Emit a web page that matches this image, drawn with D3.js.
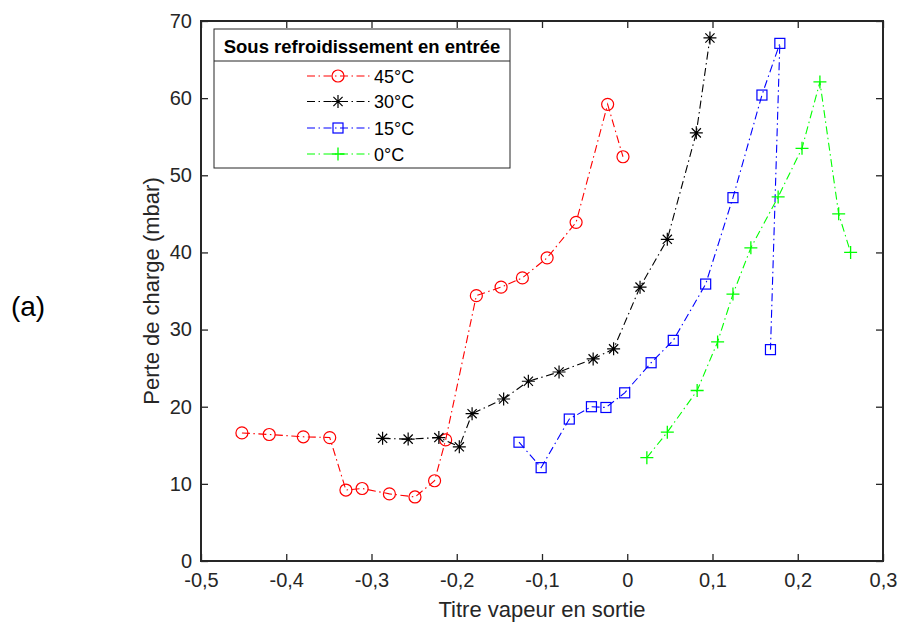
<!DOCTYPE html>
<html><head><meta charset="utf-8">
<script src="https://cdn.jsdelivr.net/npm/d3@7"></script>
<style>
html,body{margin:0;padding:0;background:#fff;}
svg{display:block;font-family:"Liberation Sans",Arial,sans-serif;}
</style></head>
<body><svg id="c" width="899" height="623"></svg>
<script>
const xTicks = [-0.5,-0.4,-0.3,-0.2,-0.1,0,0.1,0.2,0.3];
const yTicks = [0,10,20,30,40,50,60,70];
const seriesNames = ["45°C","30°C","15°C","0°C"];
const seriesColors = ["#ff0000","#000000","#0000ff","#00ff00"];
const seriesMarkers = ["circle","star","square","plus"];
const x45 = [-0.452,-0.420,-0.380,-0.349,-0.330,-0.311,-0.279,-0.249,-0.226,-0.213,-0.177,-0.148,-0.123,-0.094,-0.060,-0.023,-0.005];
const y45 = [16.6,16.4,16.1,16.0,9.2,9.4,8.7,8.3,10.4,15.7,34.4,35.5,36.7,39.3,43.9,59.2,52.4];
const x30 = [-0.287,-0.257,-0.221,-0.197,-0.182,-0.145,-0.116,-0.080,-0.040,-0.016,0.015,0.047,0.081,0.097];
const y30 = [15.9,15.8,16.0,14.8,19.1,21.0,23.3,24.5,26.2,27.5,35.5,41.7,55.5,67.8];
const x15 = [-0.127,-0.101,-0.068,-0.042,-0.025,-0.003,0.028,0.054,0.092,0.124,0.158,0.179,0.168];
const y15 = [15.4,12.1,18.4,20.0,19.9,21.8,25.7,28.6,35.9,47.1,60.4,67.1,27.4];
const x0 = [0.023,0.047,0.082,0.106,0.124,0.145,0.177,0.205,0.226,0.248,0.262];
const y0 = [13.4,16.7,22.1,28.4,34.6,40.6,47.2,53.5,62.1,45.0,40.0];
const xs = [x45,x30,x15,x0], ys = [y45,y30,y15,y0];

const svg = d3.select("#c");
const L=201, R=883, T=21, B=561;
const x = d3.scaleLinear().domain([-0.5,0.3]).range([L,R]);
const y = d3.scaleLinear().domain([0,70]).range([B,T]);
const fmt = d => Math.abs(d)<1e-9 ? "0" : d.toFixed(1).replace(".",",").replace("\u2212","-");
const axCol = "#262626";

const gx = svg.append("g").attr("transform",`translate(0,${B})`)
  .call(d3.axisBottom(x).tickValues(xTicks).tickFormat(fmt).tickSizeInner(-7).tickSizeOuter(0).tickPadding(12));
const gxt = svg.append("g").attr("transform",`translate(0,${T})`)
  .call(d3.axisTop(x).tickValues(xTicks).tickFormat("").tickSizeInner(-7).tickSizeOuter(0));
const gy = svg.append("g").attr("transform",`translate(${L},0)`)
  .call(d3.axisLeft(y).tickValues(yTicks).tickFormat(d3.format("d")).tickSizeInner(-7).tickSizeOuter(0).tickPadding(9));
const gyr = svg.append("g").attr("transform",`translate(${R},0)`)
  .call(d3.axisRight(y).tickValues(yTicks).tickFormat("").tickSizeInner(-7).tickSizeOuter(0));
[gx,gxt,gy,gyr].forEach(g=>{
  g.select(".domain").remove();
  g.selectAll(".tick line").attr("stroke",axCol).attr("stroke-width",1.3);
  g.selectAll(".tick text").attr("fill",axCol).attr("font-size",20).attr("font-family","Liberation Sans, Arial, sans-serif");
});
svg.append("rect").attr("x",L).attr("y",T).attr("width",R-L).attr("height",B-T)
  .attr("fill","none").attr("stroke",axCol).attr("stroke-width",2);

svg.append("text").attr("x",(L+R)/2).attr("y",617).attr("text-anchor","middle")
  .attr("font-size",22).attr("fill",axCol).text("Titre vapeur en sortie");
svg.append("text").attr("transform",`translate(159,${(T+B)/2}) rotate(-90)`).attr("text-anchor","middle")
  .attr("font-size",22).attr("fill",axCol).text("Perte de charge (mbar)");
svg.append("text").attr("x",28).attr("y",316).attr("text-anchor","middle")
  .attr("font-size",28).attr("fill","#000").text("(a)");

const dash = "8,3.5,1.5,3.5";
function marker(g, type, cx, cy, col){
  if(type==="circle") g.append("circle").attr("cx",cx).attr("cy",cy).attr("r",6).attr("fill","none").attr("stroke",col).attr("stroke-width",1.2);
  else if(type==="square") g.append("rect").attr("x",cx-5).attr("y",cy-5).attr("width",10).attr("height",10).attr("fill","none").attr("stroke",col).attr("stroke-width",1.2);
  else if(type==="plus") g.append("path").attr("d",`M${cx-6.5},${cy}H${cx+6.5}M${cx},${cy-6.5}V${cy+6.5}`).attr("stroke",col).attr("stroke-width",1.3).attr("fill","none");
  else if(type==="star") g.append("path").attr("d",`M${cx-6.5},${cy}H${cx+6.5}M${cx},${cy-6.5}V${cy+6.5}M${cx-4.6},${cy-4.6}L${cx+4.6},${cy+4.6}M${cx-4.6},${cy+4.6}L${cx+4.6},${cy-4.6}`).attr("stroke",col).attr("stroke-width",1.2).attr("fill","none");
}
const line = d3.line().x(d=>x(d[0])).y(d=>y(d[1]));
seriesNames.forEach((n,i)=>{
  const pts = xs[i].map((v,j)=>[v,ys[i][j]]);
  const g = svg.append("g");
  g.append("path").attr("d",line(pts)).attr("fill","none").attr("stroke",seriesColors[i])
    .attr("stroke-width",1.1).attr("stroke-dasharray",dash);
  pts.forEach(p=>marker(g,seriesMarkers[i],x(p[0]),y(p[1]),seriesColors[i]));
});

const lg = svg.append("g");
lg.append("rect").attr("x",214).attr("y",29).attr("width",296).attr("height",139)
  .attr("fill","#fff").attr("stroke",axCol).attr("stroke-width",1);
lg.append("line").attr("x1",214).attr("x2",510).attr("y1",61).attr("y2",61).attr("stroke",axCol).attr("stroke-width",1);
lg.append("text").attr("x",362).attr("y",52.5).attr("text-anchor","middle").attr("font-size",18.5)
  .attr("font-weight","bold").attr("fill","#000").text("Sous refroidissement en entrée");
const rowY = [76,101.5,128,154];
seriesNames.forEach((n,i)=>{
  lg.append("line").attr("x1",307).attr("x2",370).attr("y1",rowY[i]).attr("y2",rowY[i])
    .attr("stroke",seriesColors[i]).attr("stroke-width",1.1).attr("stroke-dasharray",dash);
  marker(lg,seriesMarkers[i],338,rowY[i],seriesColors[i]);
  lg.append("text").attr("x",374).attr("y",rowY[i]+6.5).attr("font-size",18).attr("fill","#000").text(n);
});
</script></body></html>
